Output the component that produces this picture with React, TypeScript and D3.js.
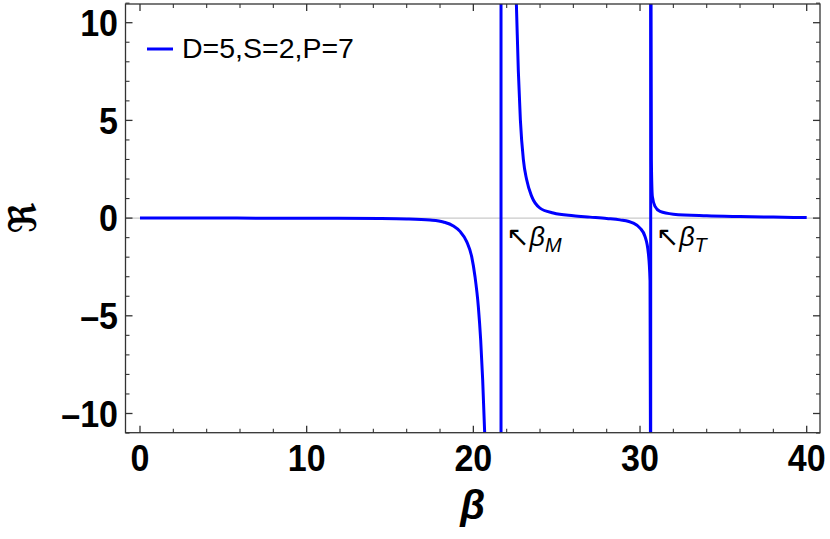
import React from "react";
import * as d3 from "d3";

// ---- data ----
const branch1Beta = [0, 5, 10, 14.4, 16, 17.4, 18.2, 18.8, 19.2, 19.6, 19.9, 20.1, 20.3, 20.44, 20.56, 20.68, 20.75];
const branch1R = [0, 0, -0.005, -0.02, -0.04, -0.1, -0.2, -0.4, -0.68, -1.2, -1.97, -3.0, -4.54, -6.24, -8.29, -11, -13];

const branch2Beta = [22.5, 22.58, 22.7, 22.82, 23.0, 23.2, 23.5, 24.0, 24.8, 26.0, 27.0, 28.0, 28.8, 29.6, 30.0, 30.3, 30.5, 30.6, 30.63];
const branch2R = [13, 11, 7.5, 5.04, 3.0, 1.96, 1.11, 0.51, 0.26, 0.12, 0.05, -0.02, -0.09, -0.26, -0.51, -0.94, -1.8, -3.2, -13];

const branch3Beta = [30.65, 30.68, 30.74, 30.9, 31.2, 32, 34, 36, 38, 40];
const branch3R = [13, 3, 1.11, 0.6, 0.34, 0.2, 0.12, 0.08, 0.05, 0.03];

const poleBetas = [21.66, 30.64];
const poleLabels = ["M", "T"];

const xMajorTicks = [0, 10, 20, 30, 40];
const xMinorTicks = d3.range(0, 41, 2).filter((v) => v % 10 !== 0);
const yMajorTicks = [-10, -5, 0, 5, 10];
const yMinorTicks = d3.range(-11, 12, 1).filter((v) => v % 5 !== 0);

const legendLabel = "D=5,S=2,P=7";

// ---- layout ----
const W = 830;
const H = 539;
const L = 125.5;
const R = 820;
const T = 4;
const B = 432.7;
const BLUE = "#0000ff";
const FRAME = "#333333";

export default function App() {
  const x = d3.scaleLinear().domain([0, 40]).range([140, 806.7]);
  const y = d3.scaleLinear().domain([-10, 10]).range([413.5, 22.7]);

  const line = d3
    .line<[number, number]>()
    .x((d) => x(d[0]))
    .y((d) => y(d[1]))
    .curve(d3.curveMonotoneX);

  const branches = [
    branch1Beta.map((b, i) => [b, branch1R[i]] as [number, number]),
    branch2Beta.map((b, i) => [b, branch2R[i]] as [number, number]),
    branch3Beta.map((b, i) => [b, branch3R[i]] as [number, number]),
  ];

  const majorLen = 7;
  const minorLen = 4;
  const tickFont = "'Liberation Sans', Arial, sans-serif";
  const tickSize = 37;
  const sx = 0.92;

  return (
    <svg
      width={W}
      height={H}
      style={{ position: "absolute", left: 0, top: 0, background: "#fff" }}
    >
      <defs>
        <clipPath id="plotClip">
          <rect x={L} y={T} width={R - L} height={B - T} />
        </clipPath>
      </defs>
      <rect x={0} y={0} width={W} height={H} fill="#fff" />

      {/* zero axis line */}
      <line x1={L} x2={R} y1={y(0)} y2={y(0)} stroke="#bdbdbd" strokeWidth={1} />

      <g clipPath="url(#plotClip)">
        {branches.map((br, i) => (
          <path key={i} d={line(br) || ""} fill="none" stroke={BLUE} strokeWidth={3} />
        ))}
        {poleBetas.map((p, i) => (
          <line key={i} x1={x(p)} x2={x(p)} y1={T} y2={B} stroke={BLUE} strokeWidth={3} />
        ))}
      </g>

      {/* frame */}
      <rect x={L} y={T} width={R - L} height={B - T} fill="none" stroke={FRAME} strokeWidth={1.3} />

      {/* x ticks bottom & top */}
      {xMajorTicks.map((t) => (
        <g key={"xm" + t}>
          <line x1={x(t)} x2={x(t)} y1={B} y2={B - majorLen} stroke={FRAME} strokeWidth={1.3} />
          <line x1={x(t)} x2={x(t)} y1={T} y2={T + majorLen} stroke={FRAME} strokeWidth={1.3} />
          <g transform={`translate(${x(t)}, 471) scale(${sx}, 1)`}>
            <text
              textAnchor="middle"
              fontFamily={tickFont}
              fontWeight="bold"
              fontSize={tickSize}
              fill="#000"
            >
              {t}
            </text>
          </g>
        </g>
      ))}
      {xMinorTicks.map((t) => (
        <g key={"xn" + t}>
          <line x1={x(t)} x2={x(t)} y1={B} y2={B - minorLen} stroke={FRAME} strokeWidth={1.1} />
          <line x1={x(t)} x2={x(t)} y1={T} y2={T + minorLen} stroke={FRAME} strokeWidth={1.1} />
        </g>
      ))}

      {/* y ticks left & right */}
      {yMajorTicks.map((t) => (
        <g key={"ym" + t}>
          <line x1={L} x2={L + majorLen} y1={y(t)} y2={y(t)} stroke={FRAME} strokeWidth={1.3} />
          <line x1={R} x2={R - majorLen} y1={y(t)} y2={y(t)} stroke={FRAME} strokeWidth={1.3} />
          <g transform={`translate(118, ${y(t)}) scale(${sx}, 1)`}>
            <text
              dy="0.36em"
              textAnchor="end"
              fontFamily={tickFont}
              fontWeight="bold"
              fontSize={tickSize}
              fill="#000"
            >
              {t < 0 ? "\u2013" + Math.abs(t) : String(t)}
            </text>
          </g>
        </g>
      ))}
      {yMinorTicks.map((t) => (
        <g key={"yn" + t}>
          <line x1={L} x2={L + minorLen} y1={y(t)} y2={y(t)} stroke={FRAME} strokeWidth={1.1} />
          <line x1={R} x2={R - minorLen} y1={y(t)} y2={y(t)} stroke={FRAME} strokeWidth={1.1} />
        </g>
      ))}

      {/* axis titles */}
      <text
        x={(L + R) / 2}
        y={519}
        textAnchor="middle"
        fontFamily={tickFont}
        fontWeight="bold"
        fontStyle="italic"
        fontSize={40}
        fill="#000"
      >
        β
      </text>
      <text
        transform={`translate(36, ${y(0)}) rotate(-90)`}
        textAnchor="middle"
        fontFamily="'DejaVu Sans', sans-serif"
        fontWeight="bold"
        fontSize={38}
        fill="#000"
      >
        ℜ
      </text>

      {/* legend */}
      <line x1={147} x2={173} y1={49} y2={49} stroke={BLUE} strokeWidth={3} />
      <text x={182} y={58} fontFamily={tickFont} fontSize={28.5} fill="#000">
        {legendLabel}
      </text>

      {/* pole annotations */}
      {poleBetas.map((p, i) => (
        <text
          key={"pl" + i}
          x={x(p) + 5}
          y={245.5}
          fontFamily={tickFont}
          fontSize={27}
          fill="#000"
        >
          <tspan fontFamily="'DejaVu Sans', sans-serif" fontSize={28}>↖</tspan>
          <tspan fontStyle="italic">β</tspan>
          <tspan fontStyle="italic" fontSize={20} dy={6}>
            {poleLabels[i]}
          </tspan>
        </text>
      ))}
    </svg>
  );
}
